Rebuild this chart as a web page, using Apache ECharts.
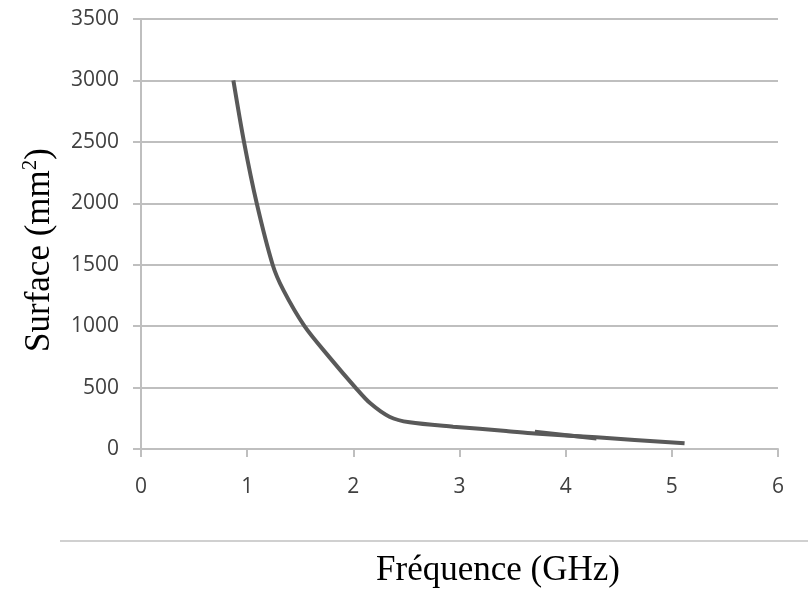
<!DOCTYPE html>
<html>
<head>
<meta charset="utf-8">
<script src="https://cdn.jsdelivr.net/npm/echarts@6/dist/echarts.min.js"></script>
<style>
  html, body { margin: 0; padding: 0; background: #ffffff; }
  #chart { width: 808px; height: 589px; }
</style>
</head>
<body>
<div id="chart"></div>
<script>
// values
var freq = [0.87, 0.97, 1.09, 1.24, 1.34, 1.54, 1.77, 2.02, 2.16, 2.34, 2.53, 2.94, 3.44, 3.71, 4.29, 5.12];
var surface = [3000, 2500, 2000, 1500, 1295, 1000, 752, 500, 372, 263, 217, 182, 147, 127, 95, 46];
// short overlapping stroke near 4 GHz
var freq2 = [3.71, 4.29];
var surface2 = [140, 85];

var xTicks = [0, 1, 2, 3, 4, 5, 6];
var yTicks = [0, 500, 1000, 1500, 2000, 2500, 3000, 3500];

function pairs(xs, ys) {
    var list = [];
    for (var i = 0; i < xs.length; i++) {
        list.push([xs[i], ys[i]]);
    }
    return list;
}

var chartDom = document.getElementById('chart');
var myChart = echarts.init(chartDom);
var option;

option = {
    animation: false,
    backgroundColor: '#ffffff',
    grid: {
        left: 141,
        right: 30,
        top: 19,
        bottom: 140
    },
    xAxis: {
        type: 'value',
        min: xTicks[0],
        max: xTicks[xTicks.length - 1],
        interval: 1,
        axisLine: { lineStyle: { color: '#bfbfbf', width: 2 } },
        axisTick: { show: true, length: 8, lineStyle: { color: '#bfbfbf', width: 2 } },
        axisLabel: {
            color: '#404040', fontSize: 21, fontFamily: 'Open Sans', margin: 28,
            formatter: function (v) { return String(v); }
        },
        splitLine: { show: false }
    },
    yAxis: {
        type: 'value',
        min: yTicks[0],
        max: yTicks[yTicks.length - 1],
        interval: 500,
        axisLine: { show: true, lineStyle: { color: '#bfbfbf', width: 2 } },
        axisTick: { show: true, length: 8, lineStyle: { color: '#bfbfbf', width: 2 } },
        axisLabel: {
            color: '#404040', fontSize: 21, fontFamily: 'Open Sans', margin: 22,
            formatter: function (v) { return String(v); }
        },
        splitLine: { lineStyle: { color: '#bfbfbf', width: 2 } }
    },
    graphic: [
        {
            type: 'line',
            shape: { x1: 60, y1: 541, x2: 808, y2: 541 },
            style: { stroke: '#d0d0d0', lineWidth: 2 }
        },
        {
            type: 'text',
            x: 498,
            y: 571,
            style: {
                text: 'Fréquence (GHz)',
                font: '35px "Liberation Serif"',
                fill: '#000000',
                align: 'center',
                verticalAlign: 'middle'
            }
        },
        {
            type: 'text',
            x: 40,
            y: 250,
            rotation: Math.PI / 2,
            style: {
                text: 'Surface (mm{sup|2})',
                font: '35px "Liberation Serif"',
                fill: '#000000',
                align: 'center',
                verticalAlign: 'middle',
                rich: {
                    sup: {
                        fontSize: 21,
                        fontFamily: 'Liberation Serif',
                        fill: '#000000',
                        padding: [0, 0, 20, 0]
                    }
                }
            }
        }
    ],
    series: [
        {
            type: 'line',
            data: pairs(freq, surface),
            smooth: 0.3,
            showSymbol: false,
            lineStyle: { color: '#595959', width: 4 }
        },
        {
            type: 'line',
            data: pairs(freq2, surface2),
            showSymbol: false,
            lineStyle: { color: '#595959', width: 4 }
        }
    ]
};

option && myChart.setOption(option);
</script>
</body>
</html>
